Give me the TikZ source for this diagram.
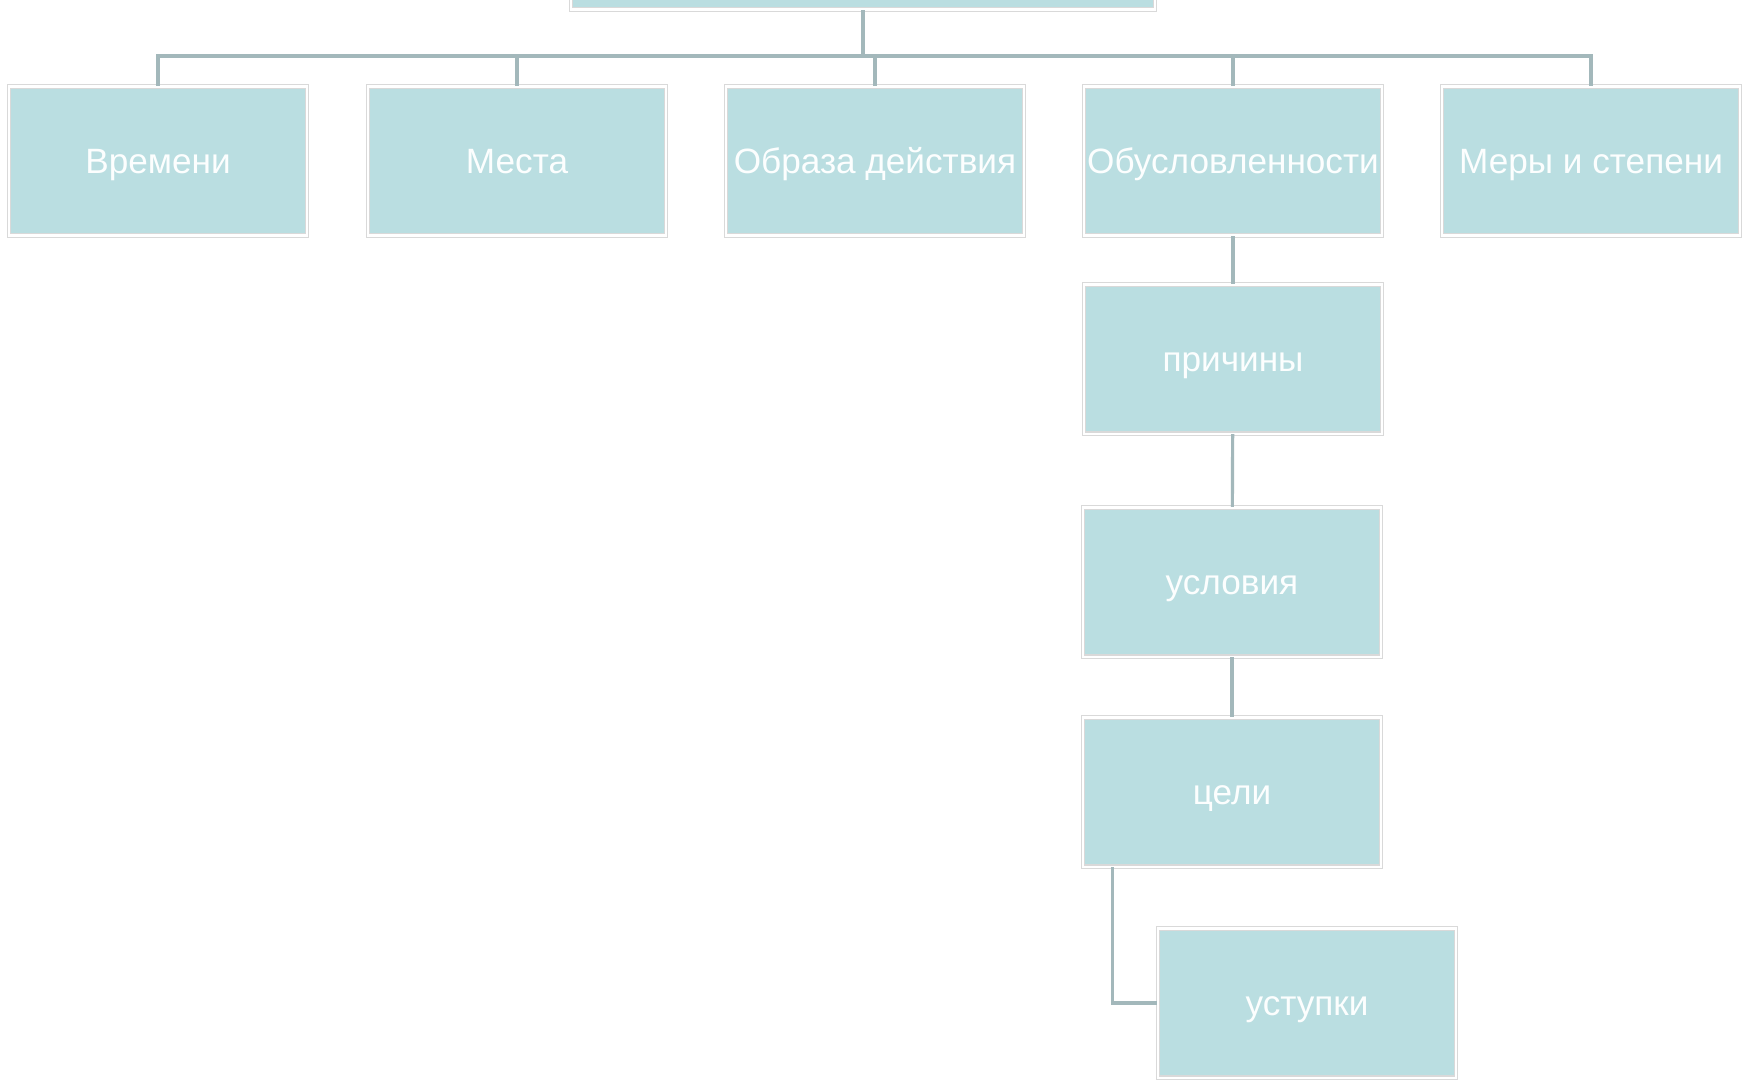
\documentclass[tikz,border=0pt]{standalone}
\usepackage{fontspec}
\setmainfont{Liberation Sans}
\definecolor{boxfill}{HTML}{BADEE1}
\definecolor{linkcol}{HTML}{A3B8BB}
\begin{document}
\begin{tikzpicture}[x=0.01cm, y=-0.01cm,
  box/.style={draw=black!15, line width=.3pt, double=white, double distance=.6pt,
    fill=boxfill, text=white!96!boxfill,
    minimum width=2.98cm, minimum height=1.49cm, inner sep=0pt,
    text height=.94em, text depth=.22em, font=\fontsize{10}{12}\selectfont},
  link/.style={draw=linkcol, line width=.9pt}]
  \useasboundingbox (0,0) rectangle (1749,1081);
  \clip (0,0) rectangle (1749,1081);
  % top row
  \node [box, minimum width=5.83cm] (root) at (863,-65) {};
  \node [box] (vrem) at (158,161) {Времени};
  \node [box] (mesto) at (517,161) {Места};
  \node [box] (obraz) at (875,161) {Образа действия};
  \node [box] (obusl) at (1233,161) {Обусловленности};
  \node [box] (mery) at (1591,161) {Меры и степени};
  % column under obusl
  \node [box] (prich) at (1233,359) {причины};
  \node [box] (uslov) at (1232,582) {условия};
  \node [box] (tsel) at (1232,792) {цели};
  \node [box] (ustup) at (1307,1003) {уступки};
  % links
  \foreach \n in {vrem,mesto,obraz,obusl,mery}
    \draw [link] (root.south) -- ++(0,46) -| (\n.north);
  \draw [link] (obusl) -- (prich);
  \draw [link] (prich) -- (uslov);
  \draw [link] (uslov) -- (tsel);
  \draw [link] ([xshift=0.3cm]tsel.south west) |- (ustup.west);
\end{tikzpicture}
\end{document}
